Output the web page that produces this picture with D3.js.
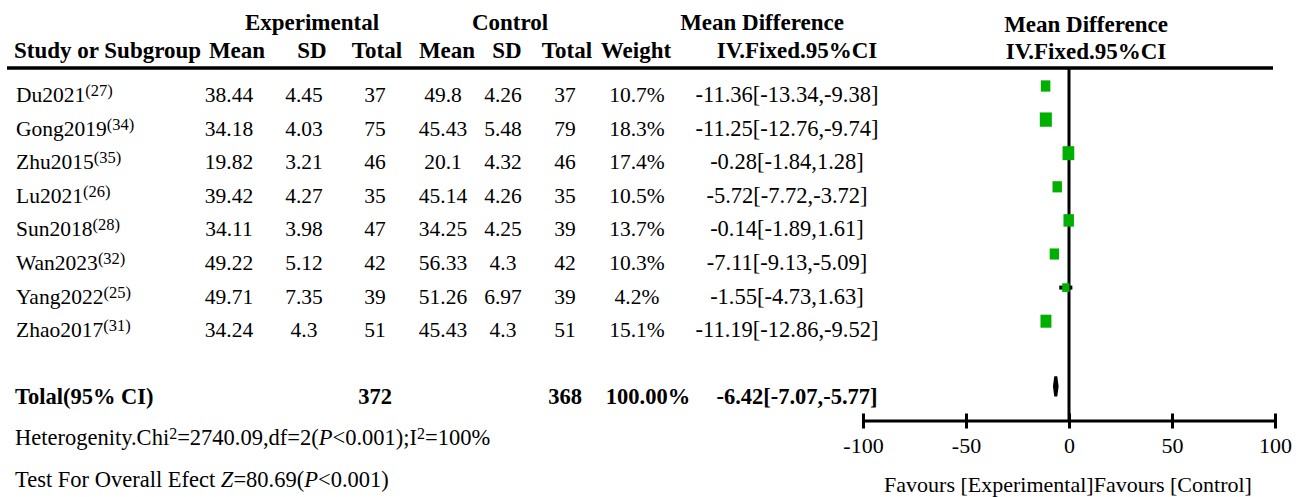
<!DOCTYPE html>
<meta charset="utf-8">
<head>
<style>
body { margin: 0; background: #fff; }
text { font-family: "Liberation Serif", "Times New Roman", serif; fill: #000; }
.hd { font-weight: bold; font-size: 23px; }
.cell { font-size: 21.5px; }
.ci { font-size: 22.5px; }
.foot { font-size: 22.5px; }
.tot { font-weight: bold; font-size: 22.5px; }
.axis path, .axis line { stroke: #000; stroke-width: 3px; }
.axis text { font-size: 22px; font-family: "Liberation Serif", serif; }
</style>
<script src="https://d3js.org/d3.v7.min.js"></script>
</head>
<body>
<div id="chart"></div>
<script>

var studies  = ["Du2021", "Gong2019", "Zhu2015", "Lu2021", "Sun2018", "Wan2023", "Yang2022", "Zhao2017"];
var refs     = ["27", "34", "35", "26", "28", "32", "25", "31"];
var expMean  = [38.44, 34.18, 19.82, 39.42, 34.11, 49.22, 49.71, 34.24];
var expSD    = [4.45, 4.03, 3.21, 4.27, 3.98, 5.12, 7.35, 4.3];
var expN     = [37, 75, 46, 35, 47, 42, 39, 51];
var ctlMean  = [49.8, 45.43, 20.1, 45.14, 34.25, 56.33, 51.26, 45.43];
var ctlSD    = [4.26, 5.48, 4.32, 4.26, 4.25, 4.3, 6.97, 4.3];
var ctlN     = [37, 79, 46, 35, 39, 42, 39, 51];
var weights  = [10.7, 18.3, 17.4, 10.5, 13.7, 10.3, 4.2, 15.1];
var md       = [-11.36, -11.25, -0.28, -5.72, -0.14, -7.11, -1.55, -11.19];
var ciLow    = [-13.34, -12.76, -1.84, -7.72, -1.89, -9.13, -4.73, -12.86];
var ciHigh   = [-9.38, -9.74, 1.28, -3.72, 1.61, -5.09, 1.63, -9.52];

var total = {label: "Tolal(95% CI)", expN: 372, ctlN: 368, weight: "100.00%", md: -6.42, lo: -7.07, hi: -5.77};
var xTicks = [-100, -50, 0, 50, 100];

var W = 1302, H = 497;
var svg = d3.select("#chart").append("svg")
  .attr("width", W).attr("height", H);

// row baselines
var y = d3.scaleLinear().domain([0, 9]).range([102, 404.4]);
// forest plot scale
var x = d3.scaleLinear().domain([-100, 100]).range([863, 1275]);
var boxSize = d3.scaleLinear().domain([0, 20]).range([7, 15]);

var cols = [
  {key: "expMean", x: 229}, {key: "expSD", x: 304}, {key: "expN", x: 375},
  {key: "ctlMean", x: 443}, {key: "ctlSD", x: 503}, {key: "ctlN", x: 565},
  {key: "weight", x: 637}, {key: "ci", x: 787, cls: "ci"}
];

var rows = studies.map(function(s, i) {
  return {name: s, ref: refs[i], expMean: expMean[i], expSD: expSD[i], expN: expN[i],
    ctlMean: ctlMean[i], ctlSD: ctlSD[i], ctlN: ctlN[i], weight: weights[i] + "%",
    w: weights[i], md: md[i], lo: ciLow[i], hi: ciHigh[i],
    ci: md[i] + "[" + ciLow[i] + "," + ciHigh[i] + "]"};
});

//// headers
function hd(t, cx, cy, anchor) {
  svg.append("text").attr("class", "hd").attr("x", cx).attr("y", cy)
    .attr("text-anchor", anchor || "middle").text(t);
}
hd("Experimental", 312, 30);
hd("Control", 510, 30);
hd("Mean Difference", 762, 30);
hd("Mean Difference", 1086, 32);
hd("Study or Subgroup", 14, 58, "start");
hd("Mean", 237, 58); hd("SD", 312, 58); hd("Total", 377, 58);
hd("Mean", 447, 58); hd("SD", 507, 58); hd("Total", 567, 58);
hd("Weight", 636, 58);
hd("IV.Fixed.95%CI", 797, 58);
hd("IV.Fixed.95%CI", 1086, 59);

svg.append("line").attr("x1", 7).attr("x2", 1273).attr("y1", 68).attr("y2", 68)
  .attr("stroke", "#000").attr("stroke-width", 3.5);

//// study rows
var lab = svg.selectAll(".lab").data(rows).enter().append("text")
  .attr("class", "cell lab").attr("x", 16).attr("y", function(d, i) { return y(i); });
lab.append("tspan").text(function(d) { return d.name; });
lab.append("tspan").attr("dy", -6).style("font-size", "16.5px")
  .text(function(d) { return "(" + d.ref + ")"; });

cols.forEach(function(c) {
  svg.selectAll(".c-" + c.key).data(rows).enter().append("text")
    .attr("class", (c.cls || "cell") + " c-" + c.key)
    .attr("x", c.x).attr("y", function(d, i) { return y(i); })
    .attr("text-anchor", "middle")
    .text(function(d) { return d[c.key]; });
});

//// total row
var ty = y(9);
svg.append("text").attr("class", "tot").attr("x", 15).attr("y", ty).text(total.label);
svg.append("text").attr("class", "tot").attr("x", 375).attr("y", ty).attr("text-anchor", "middle").text(total.expN);
svg.append("text").attr("class", "tot").attr("x", 565).attr("y", ty).attr("text-anchor", "middle").text(total.ctlN);
svg.append("text").attr("class", "tot").attr("x", 648).attr("y", ty).attr("text-anchor", "middle").text(total.weight);
svg.append("text").attr("class", "tot").attr("x", 797).attr("y", ty).attr("text-anchor", "middle")
  .text(total.md + "[" + total.lo + "," + total.hi + "]");

//// footnotes
var het = svg.append("text").attr("class", "foot").attr("x", 15).attr("y", 445);
het.append("tspan").text("Heterogenity.Chi");
het.append("tspan").attr("dy", -6).style("font-size", "16px").text("2");
het.append("tspan").attr("dy", 6).text("=2740.09,df=2(");
het.append("tspan").style("font-style", "italic").text("P");
het.append("tspan").text("<0.001);I");
het.append("tspan").attr("dy", -6).style("font-size", "16px").text("2");
het.append("tspan").attr("dy", 6).text("=100%");

var tst = svg.append("text").attr("class", "foot").attr("x", 15).attr("y", 487);
tst.append("tspan").text("Test For Overall Efect ");
tst.append("tspan").style("font-style", "italic").text("Z");
tst.append("tspan").text("=80.69(");
tst.append("tspan").style("font-style", "italic").text("P");
tst.append("tspan").text("<0.001)");

//// forest plot
svg.append("line").attr("x1", x(0)).attr("x2", x(0)).attr("y1", 68).attr("y2", 420)
  .attr("stroke", "#000").attr("stroke-width", 3);

svg.selectAll(".cil").data(rows).enter().append("line")
  .attr("x1", function(d) { return x(d.lo); })
  .attr("x2", function(d) { return x(d.hi); })
  .attr("y1", function(d, i) { return y(i) - 16; })
  .attr("y2", function(d, i) { return y(i) - 16; })
  .attr("stroke", "#000").attr("stroke-width", 4);

svg.selectAll(".box").data(rows).enter().append("rect")
  .attr("x", function(d) { return x(d.md) - boxSize(d.w) * 0.42; })
  .attr("y", function(d, i) { return y(i) - 16 - boxSize(d.w) / 2; })
  .attr("width", function(d) { return boxSize(d.w) * 0.84; })
  .attr("height", function(d) { return boxSize(d.w); })
  .attr("fill", "#00b000");

var dy = ty - 18;
svg.append("polygon")
  .attr("points", [[x(total.lo), dy], [x(total.md), dy - 10], [x(total.hi), dy], [x(total.md), dy + 10]].join(" "))
  .attr("fill", "#000").attr("stroke", "#000").attr("stroke-width", 3)
  .attr("stroke-linejoin", "bevel");

var ax = svg.append("g").attr("class", "axis")
  .attr("transform", "translate(0,420.5)")
  .call(d3.axisBottom(x).tickValues(xTicks).tickSizeInner(15).tickSizeOuter(0).tickPadding(2)
    .tickFormat(function(d) { return d; }));
ax.selectAll(".tick line").attr("y1", -7).attr("y2", 8);
ax.selectAll(".tick text").attr("fill", "#000");

svg.append("text").attr("class", "foot").attr("x", 1068).attr("y", 492)
  .attr("text-anchor", "middle").style("font-size", "22px")
  .text("Favours [Experimental]Favours [Control]");

</script>
</body>
</html>
